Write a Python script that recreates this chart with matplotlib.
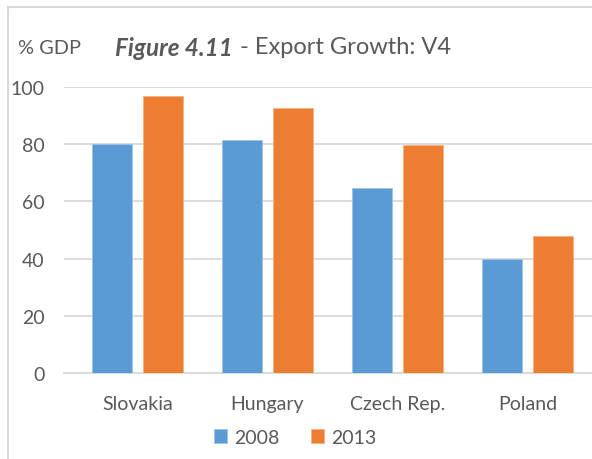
import matplotlib.pyplot as plt
import numpy as np
from matplotlib.patches import Rectangle

# data
countries = ["Slovakia", "Hungary", "Czech Rep.", "Poland"]
gdp_2008 = [80, 81.3, 64.8, 40]
gdp_2013 = [97, 92.6, 79.7, 48]
years = ["2008", "2013"]

blue = "#5B9BD5"
orange = "#ED7D31"
txt = "#595959"
grid = "#D9D9D9"

plt.rcParams['font.family'] = ['Lato', 'DejaVu Sans']

W, H = 592, 460
fig = plt.figure(figsize=(W / 100, H / 100), dpi=100)

# chart border (Excel chart area)
fig.patches.append(Rectangle((8 / W, -0.1), 1.2, (H - 8) / H + 0.1, transform=fig.transFigure,
                             fill=False, edgecolor=grid, linewidth=1.5))

# axes: left 64px, right edge of image, y=0 at 374px, y=100 at 88px
ax = fig.add_axes([64 / W, (H - 374) / H, (W - 64) / W, (374 - 88) / H])

x = np.arange(len(countries))
bw = 40 / 130
off = 25.5 / 130
ax.bar(x - off, gdp_2008, bw, color=blue, edgecolor="#9DC3E6", linewidth=0.6, label=years[0], zorder=3)
ax.bar(x + off, gdp_2013, bw, color=orange, edgecolor="#F4B183", linewidth=0.6, label=years[1], zorder=3)

ax.set_xlim(-0.565, 3.496)
ax.set_ylim(0, 100)
ax.set_yticks(range(0, 101, 20))
ax.yaxis.grid(True, color=grid, linewidth=1.3, zorder=0)
for s in ["top", "right", "left"]:
    ax.spines[s].set_visible(False)
ax.spines["bottom"].set_color(grid)
ax.spines["bottom"].set_linewidth(1.3)
ax.tick_params(axis="both", length=0, labelsize=14, labelcolor=txt)
ax.tick_params(axis="y", pad=14)
ax.tick_params(axis="x", pad=16)
ax.set_xticks(x)
ax.set_xticklabels(countries)

fig.text(18 / W, 1 - 48 / H, "% GDP", fontsize=14.4, color=txt, va="center", ha="left")
fig.text(115 / W, 1 - 48 / H, "Figure 4.11", fontsize=17.5, color=txt, va="center", ha="left",
         fontweight="bold", fontstyle="italic")
fig.text(240 / W, 1 - 48 / H, "- Export Growth: V4", fontsize=17, color=txt, va="center", ha="left")

fig.legend(loc="center", bbox_to_anchor=(295 / W, 1 - 438 / H), ncol=2, frameon=False,
           fontsize=14, labelcolor=txt, handlelength=0.7, handleheight=0.7,
           handletextpad=0.35, columnspacing=1.6)

plt.savefig("out.png", dpi=100)
